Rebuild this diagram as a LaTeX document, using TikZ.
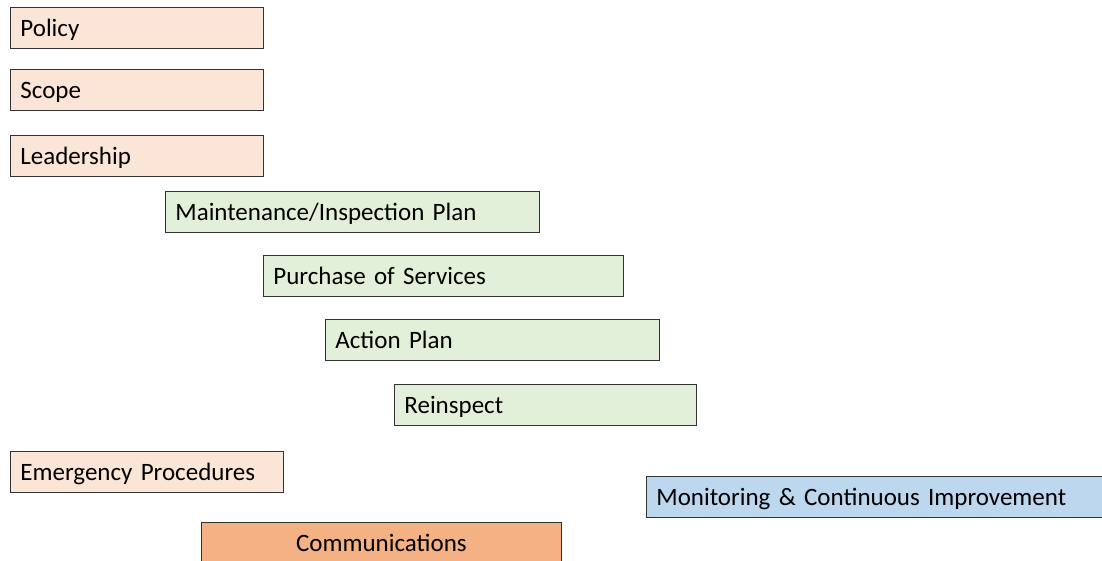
\documentclass[tikz,border=0pt]{standalone}
\usepackage{fontspec}
\setmainfont{Carlito}
\definecolor{peach}{HTML}{FBE5D6}
\definecolor{sage}{HTML}{E2F0D9}
\definecolor{sky}{HTML}{BDD7EE}
\definecolor{apricot}{HTML}{F4B183}
\begin{document}
\begin{tikzpicture} [
   x=1pt, y=-1pt,
   b/.style={draw=black!80, line width=0.8pt, rectangle, anchor=north west,
      minimum height=41pt, inner xsep=10pt, inner ysep=0pt,
      text height=18.5pt, text depth=1.5pt, align=left, text width=#1,
      font=\fontsize{25}{29}\selectfont},
   p/.style={b=#1, fill=peach},
   g/.style={b=#1, fill=sage}
]
   \useasboundingbox (0,0) rectangle (1102,560);
   \node (policy) [p=233pt] at (10,7) {Policy};
   \node (scope) [p=233pt] at (10,69) {Scope};
   \node (lead) [p=233pt] at (10,135) {Leadership};
   \node (maint) [g=354pt] at (165,191) {Maintenance/Inspection Plan};
   \node (purchase) [g=340pt] at (263,255) {Purchase of Services};
   \node (action) [g=314pt] at (325,319) {Action Plan};
   \node (reinsp) [g=282pt] at (394,384) {Reinspect};
   \node (emerg) [p=253pt] at (10,451) {Emergency Procedures};
   \node (monitor) [b=450pt, fill=sky] at (646,476) {Monitoring \& Continuous Improvement};
   \node (comms) [b=340pt, fill=apricot, align=center] at (201,522) {Communications};
\end{tikzpicture}
\end{document}
